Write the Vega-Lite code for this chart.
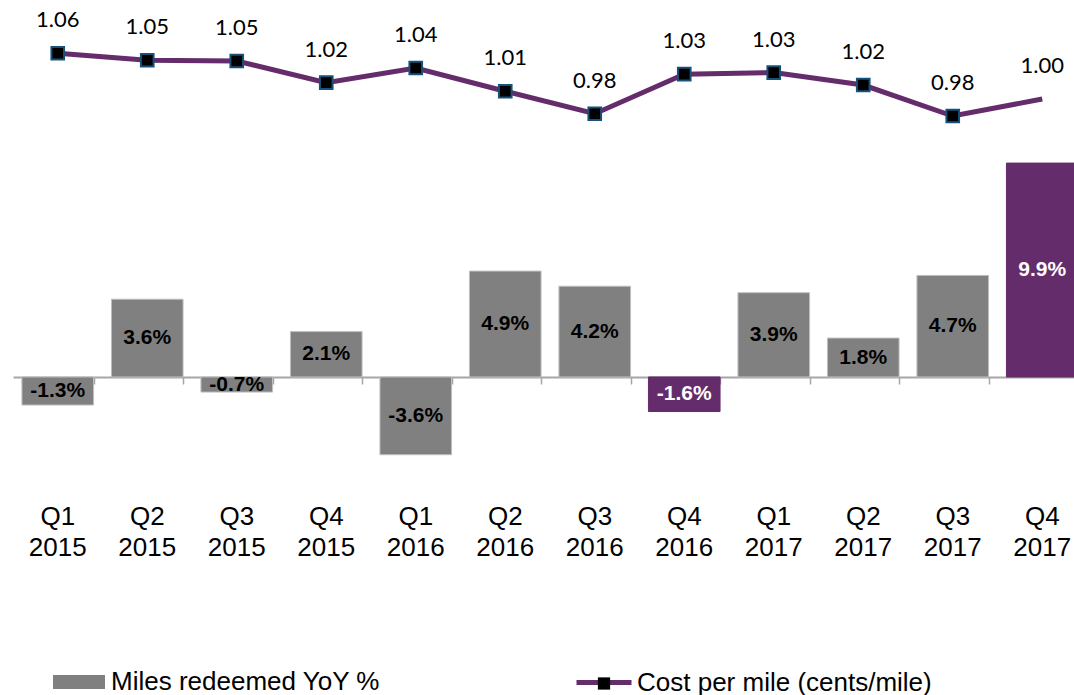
{
  "$schema": "https://vega.github.io/schema/vega-lite/v6.json",
  "width": 1061,
  "height": 480,
  "padding": {"left": 13, "top": 0, "right": 0, "bottom": 215},
  "autosize": {"type": "none"},
  "background": "white",
  "config": {"view": {"stroke": null}, "font": "Liberation Sans"},
  "data": {
    "values": [
      {"cat": "Q1 2015", "yoy": -1.3, "grp": "Miles redeemed YoY %", "cost": 1.059},
      {"cat": "Q2 2015", "yoy": 3.6, "grp": "Miles redeemed YoY %", "cost": 1.050},
      {"cat": "Q3 2015", "yoy": -0.7, "grp": "Miles redeemed YoY %", "cost": 1.049},
      {"cat": "Q4 2015", "yoy": 2.1, "grp": "Miles redeemed YoY %", "cost": 1.021},
      {"cat": "Q1 2016", "yoy": -3.6, "grp": "Miles redeemed YoY %", "cost": 1.040},
      {"cat": "Q2 2016", "yoy": 4.9, "grp": "Miles redeemed YoY %", "cost": 1.010},
      {"cat": "Q3 2016", "yoy": 4.2, "grp": "Miles redeemed YoY %", "cost": 0.981},
      {"cat": "Q4 2016", "yoy": -1.6, "grp": "Highlight", "cost": 1.032},
      {"cat": "Q1 2017", "yoy": 3.9, "grp": "Miles redeemed YoY %", "cost": 1.034},
      {"cat": "Q2 2017", "yoy": 1.8, "grp": "Miles redeemed YoY %", "cost": 1.018},
      {"cat": "Q3 2017", "yoy": 4.7, "grp": "Miles redeemed YoY %", "cost": 0.978},
      {"cat": "Q4 2017", "yoy": 9.9, "grp": "Highlight", "cost": 1.000}
    ]
  },
  "layer": [
    {
      "layer": [
        {
          "mark": {"type": "bar", "strokeWidth": 1},
          "encoding": {
            "x": {"field": "cat", "type": "nominal", "sort": null,
              "scale": {"range": [0, 1074], "paddingInner": 0.2, "paddingOuter": 0.1},
              "axis": {"title": null, "labels": false, "orient": "bottom", "offset": -103, "domainColor": "#A6A6A6", "domainWidth": 2, "ticks": true, "tickBand": "extent", "tickColor": "#A6A6A6", "tickWidth": 1.5, "tickSize": 7, "grid": false}},
            "y": {"field": "yoy", "type": "quantitative", "scale": {"domain": [-4.77, 17.45], "nice": false, "zero": false}, "axis": null},
            "color": {"field": "grp", "type": "nominal",
              "scale": {"domain": ["Miles redeemed YoY %", "Highlight"], "range": ["#808080", "#642C6A"]},
              "legend": {"values": ["Miles redeemed YoY %"], "orient": "none", "legendX": 40, "legendY": 656, "title": null, "symbolType": "M-1,-0.27H1V0.27H-1Z", "symbolSize": 2704, "symbolStrokeWidth": 0, "labelFontSize": 26, "labelFont": "Liberation Sans", "labelColor": "black", "labelOffset": 6, "labelLimit": 600, "padding": 0}},
            "stroke": {"condition": {"test": "datum.grp === 'Highlight'", "value": "#642C6A"}, "value": "#BFBFBF"}
          }
        },
        {
          "transform": [
            {"calculate": "datum.yoy / 2", "as": "mid"},
            {"calculate": "(datum.yoy < 0 ? '-' : '') + format(abs(datum.yoy), '.1f') + '%'", "as": "lbl"}
          ],
          "mark": {"type": "text", "font": "Liberation Sans", "fontWeight": "bold", "fontSize": 21, "baseline": "middle", "align": "center"},
          "encoding": {
            "x": {"field": "cat", "type": "nominal", "sort": null,
              "scale": {"range": [0, 1074], "paddingInner": 0.2, "paddingOuter": 0.1},
              "axis": {"title": null, "labels": false, "orient": "bottom", "offset": -103, "domainColor": "#A6A6A6", "domainWidth": 2, "ticks": true, "tickBand": "extent", "tickColor": "#A6A6A6", "tickWidth": 1.5, "tickSize": 7, "grid": false}},
            "y": {"field": "mid", "type": "quantitative", "scale": {"domain": [-4.77, 17.45], "nice": false, "zero": false}, "axis": null},
            "text": {"field": "lbl"},
            "color": {"condition": {"test": "datum.grp === 'Highlight'", "value": "white"}, "value": "black"}
          }
        }
      ]
    },
    {
      "layer": [
        {
          "mark": {"type": "line", "strokeWidth": 5},
          "encoding": {
            "x": {"field": "cat", "type": "nominal", "sort": null,
              "scale": {"range": [0, 1074], "paddingInner": 0.2, "paddingOuter": 0.1},
              "axis": {"title": null, "orient": "bottom", "offset": 0, "domain": false, "ticks": false, "labelExpr": "split(datum.value, ' ')", "labelFont": "Liberation Sans", "labelFontSize": 26, "labelColor": "black", "labelPadding": 23, "labelLineHeight": 31, "labelBaseline": "top", "labelAngle": 0, "grid": false, "labelOverlap": false}},
            "y": {"field": "cost", "type": "quantitative", "scale": {"domain": [0.5084, 1.1277], "nice": false, "zero": false}, "axis": null},
            "stroke": {"datum": "Cost per mile (cents/mile)", "type": "nominal", "scale": {"range": ["#642C6A"]},
              "legend": {"orient": "none", "legendX": 561, "legendY": 652.5, "title": null, "symbolType": "stroke", "symbolSize": 3025, "symbolStrokeWidth": 5, "labelFontSize": 26, "labelFont": "Liberation Sans", "labelColor": "black", "labelOffset": 3, "labelLimit": 600, "padding": 0}}
          }
        },
        {
          "transform": [{"filter": "datum.cat !== 'Q4 2017'"}],
          "mark": {"type": "point", "filled": true, "fill": "black", "stroke": "#17527A", "strokeWidth": 2, "size": 160, "opacity": 1},
          "encoding": {
            "x": {"field": "cat", "type": "nominal", "sort": null,
              "scale": {"range": [0, 1074], "paddingInner": 0.2, "paddingOuter": 0.1},
              "axis": {"title": null, "orient": "bottom", "offset": 0, "domain": false, "ticks": false, "labelExpr": "split(datum.value, ' ')", "labelFont": "Liberation Sans", "labelFontSize": 26, "labelColor": "black", "labelPadding": 23, "labelLineHeight": 31, "labelBaseline": "top", "labelAngle": 0, "grid": false, "labelOverlap": false}},
            "y": {"field": "cost", "type": "quantitative", "scale": {"domain": [0.5084, 1.1277], "nice": false, "zero": false}, "axis": null},
            "shape": {"datum": "marker", "type": "nominal", "scale": {"range": ["square"]},
              "legend": {"orient": "none", "legendX": 583.5, "legendY": 676, "title": null, "labelExpr": "''", "symbolSize": 150, "symbolFillColor": "black", "symbolStrokeColor": "#17527A", "symbolStrokeWidth": 2, "padding": 0}}
          }
        },
        {
          "mark": {"type": "text", "font": "Lato", "fontSize": 22, "dy": -33, "baseline": "middle", "align": "center", "color": "black"},
          "encoding": {
            "x": {"field": "cat", "type": "nominal", "sort": null,
              "scale": {"range": [0, 1074], "paddingInner": 0.2, "paddingOuter": 0.1},
              "axis": {"title": null, "orient": "bottom", "offset": 0, "domain": false, "ticks": false, "labelExpr": "split(datum.value, ' ')", "labelFont": "Liberation Sans", "labelFontSize": 26, "labelColor": "black", "labelPadding": 23, "labelLineHeight": 31, "labelBaseline": "top", "labelAngle": 0, "grid": false, "labelOverlap": false}},
            "y": {"field": "cost", "type": "quantitative", "scale": {"domain": [0.5084, 1.1277], "nice": false, "zero": false}, "axis": null},
            "text": {"field": "cost", "format": ".2f"}
          }
        }
      ]
    }
  ],
  "resolve": {"scale": {"y": "independent"}, "axis": {"x": "independent"}}
}
